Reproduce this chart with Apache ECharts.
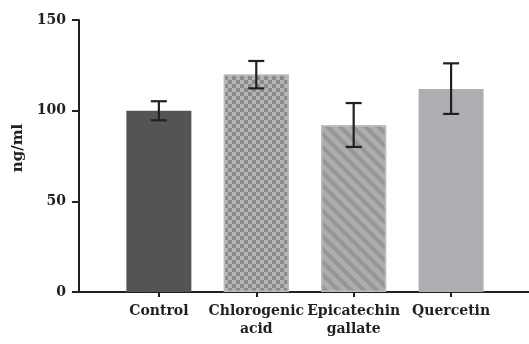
<!DOCTYPE html>
<html>
<head>
<meta charset="utf-8">
<script src="https://cdn.jsdelivr.net/npm/echarts@6/dist/echarts.min.js"></script>
<style>html,body{margin:0;padding:0;background:#fff;}#c{width:529px;height:344px;}</style>
</head>
<body>
<div id="c"></div>
<script>
var categories = ['Control', 'Chlorogenic\nacid', 'Epicatechin\ngallate', 'Quercetin'];
var means = [100, 120, 92, 112];
var errLow = [94.7, 112.3, 80, 98.2];
var errHigh = [105.2, 127.4, 104.2, 126.1];
var yTicks = [0, 50, 100, 150];
var barColors = ['#545456', '#b4b4b6', '#adadaf', '#adaeb1'];

var decals = [
  null,
  { symbol: 'rect', symbolSize: 1, color: '#8a8a8c', dashArrayX: [[3.5, 3.5], [0, 3.5, 3.5, 0]], dashArrayY: [3.5, 0] },
  { symbol: 'rect', symbolSize: 1, color: '#969698', dashArrayX: [1, 0], dashArrayY: [4, 5], rotation: Math.PI / 4 },
  null
];

var font = 'DejaVu Serif';
var chart = echarts.init(document.getElementById('c'), null, { renderer: 'canvas' });

var barData = means.map(function (v, i) {
  var it = { value: [i, v], itemStyle: { color: barColors[i], borderColor: i === 1 || i === 2 ? '#bababc' : barColors[i], borderWidth: i === 1 || i === 2 ? 1.5 : 0 } };
  if (decals[i]) it.itemStyle.decal = decals[i];
  return it;
});
var errData = means.map(function (v, i) { return [i, errLow[i], errHigh[i]]; });

chart.setOption({
  animation: false,
  backgroundColor: '#fff',
  grid: { left: 79, right: 0, top: 20, bottom: 52, containLabel: false },
  xAxis: {
    type: 'value', min: -0.82, max: 3.8,
    splitLine: { show: false },
    axisLine: { onZero: false, lineStyle: { color: '#231f20', width: 2 } },
    axisTick: { show: true, length: 5, lineStyle: { color: '#231f20', width: 2 }, customValues: [0, 1, 2, 3] },
    axisLabel: {
      customValues: [0, 1, 2, 3], margin: 10, hideOverlap: false,
      formatter: function (v) { return categories[Math.round(v)]; },
      fontFamily: font, fontWeight: 'bold', fontSize: 14, color: '#231f20', lineHeight: 18
    }
  },
  yAxis: {
    type: 'value', min: 0, max: 150, interval: 50,
    name: 'ng/ml', nameLocation: 'middle', nameGap: 52,
    nameTextStyle: { fontFamily: font, fontWeight: 'bold', fontSize: 15, color: '#231f20', padding: [0, 0, 0, 16] },
    splitLine: { show: false },
    axisLine: { show: true, onZero: false, lineStyle: { color: '#231f20', width: 2 } },
    axisTick: { show: true, length: 7, lineStyle: { color: '#231f20', width: 2 } },
    axisLabel: { margin: 13, fontFamily: font, fontWeight: 'bold', fontSize: 14, color: '#231f20' }
  },
  series: [
    {
      type: 'bar', barWidth: 65, data: barData, z: 2
    },
    {
      type: 'custom', z: 5,
      renderItem: function (params, api) {
        var x = api.value(0);
        var lo = api.coord([x, api.value(1)]);
        var hi = api.coord([x, api.value(2)]);
        var hw = 8;
        var st = { stroke: '#231f20', lineWidth: 2.2 };
        return {
          type: 'group',
          children: [
            { type: 'line', shape: { x1: lo[0], y1: lo[1], x2: hi[0], y2: hi[1] }, style: st },
            { type: 'line', shape: { x1: lo[0] - hw, y1: lo[1], x2: lo[0] + hw, y2: lo[1] }, style: st },
            { type: 'line', shape: { x1: hi[0] - hw, y1: hi[1], x2: hi[0] + hw, y2: hi[1] }, style: st }
          ]
        };
      },
      data: errData
    }
  ]
});
</script>
</body>
</html>
